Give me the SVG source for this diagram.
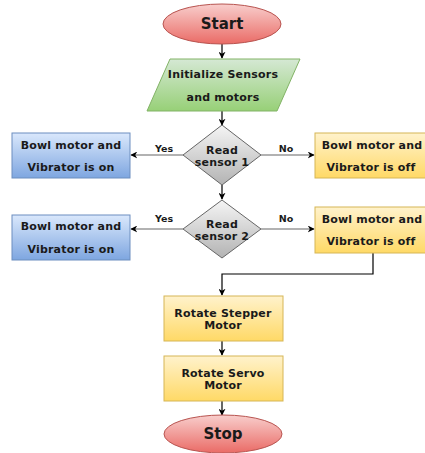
<svg xmlns="http://www.w3.org/2000/svg" width="425" height="453" viewBox="0 0 425 453">
<defs>
<linearGradient id="gRed" x1="0" y1="0" x2="0" y2="1"><stop offset="0" stop-color="#f8cecc"/><stop offset="1" stop-color="#ea6b66"/></linearGradient>
<linearGradient id="gGreen" x1="0" y1="0" x2="0" y2="1"><stop offset="0" stop-color="#d5e8d4"/><stop offset="1" stop-color="#97d077"/></linearGradient>
<linearGradient id="gBlue" x1="0" y1="0" x2="0" y2="1"><stop offset="0" stop-color="#dae8fc"/><stop offset="1" stop-color="#7ea6e0"/></linearGradient>
<linearGradient id="gYellow" x1="0" y1="0" x2="0" y2="1"><stop offset="0" stop-color="#fff2cc"/><stop offset="1" stop-color="#ffd966"/></linearGradient>
<linearGradient id="gGray" x1="0" y1="0" x2="0" y2="1"><stop offset="0" stop-color="#f5f5f5"/><stop offset="1" stop-color="#b3b3b3"/></linearGradient>
<marker id="arr" viewBox="0 0 10 10" refX="9" refY="5" markerWidth="7" markerHeight="7" orient="auto" markerUnits="userSpaceOnUse">
<path d="M0,0 L10,5 L0,10 L3,5 z" fill="#000"/>
</marker>
<style>
text{font-family:"DejaVu Sans","Liberation Sans",sans-serif;font-weight:bold;font-size:11px;letter-spacing:0.2px;fill:#1a1a1a;text-anchor:middle}
.big{font-size:15px;letter-spacing:0}
.lbl{font-size:9.5px;letter-spacing:0}
.c{fill:none;stroke:#000;stroke-width:1.2;marker-end:url(#arr)}
.cg{fill:none;stroke:#666;stroke-width:1.2;marker-end:url(#arr)}
.red{fill:url(#gRed);stroke:#b85450}
.green{fill:url(#gGreen);stroke:#82b366}
.blue{fill:url(#gBlue);stroke:#6c8ebf}
.yellow{fill:url(#gYellow);stroke:#d6b656}
.gray{fill:url(#gGray);stroke:#666666}
</style>
</defs>
<g id="connectors">
<path class="c" d="M222,44 L222,58"/>
<path class="c" d="M222,111 L222,125"/>
<path class="cg" d="M183,155 L131,155"/>
<path class="cg" d="M261,155 L314,155"/>
<path class="c" d="M222,185 L222,199"/>
<path class="cg" d="M183,229 L131,229"/>
<path class="cg" d="M261,229 L314,229"/>
<path class="c" d="M373,253 L373,274 L222,274 L222,295"/>
<path class="c" d="M222,341 L222,355"/>
<path class="c" d="M222,401 L222,415"/>
<text class="lbl" x="164" y="152">Yes</text>
<text class="lbl" x="286" y="152">No</text>
<text class="lbl" x="164" y="222">Yes</text>
<text class="lbl" x="286" y="222">No</text>
</g>
<g id="start">
<ellipse class="red" cx="222" cy="24" rx="59" ry="20"/>
<text class="big" x="222" y="29">Start</text>
</g>
<g id="init">
<polygon class="green" points="170,59 300,59 277,111 147,111"/>
<text x="223" y="78">Initialize Sensors</text>
<text x="223" y="101">and motors</text>
</g>
<g id="read1">
<polygon class="gray" points="222,125 261,155 222,185 183,155"/>
<text x="222" y="154">Read</text>
<text x="222" y="166">sensor 1</text>
</g>
<g id="on1">
<rect class="blue" x="12" y="133" width="118" height="45"/>
<text x="71" y="149">Bowl motor and</text>
<text x="71" y="171">Vibrator is on</text>
</g>
<g id="off1">
<rect class="yellow" x="315" y="133" width="120" height="45"/>
<text x="372" y="149">Bowl motor and</text>
<text x="371" y="171">Vibrator is off</text>
</g>
<g id="read2">
<polygon class="gray" points="222,200 261,229 222,258 183,229"/>
<text x="222" y="228">Read</text>
<text x="222" y="240">sensor 2</text>
</g>
<g id="on2">
<rect class="blue" x="12" y="215" width="118" height="45"/>
<text x="71" y="230">Bowl motor and</text>
<text x="71" y="253">Vibrator is on</text>
</g>
<g id="off2">
<rect class="yellow" x="315" y="207" width="120" height="46"/>
<text x="372" y="223">Bowl motor and</text>
<text x="371" y="245">Vibrator is off</text>
</g>
<g id="stepper">
<rect class="yellow" x="164" y="296" width="119" height="45"/>
<text x="223" y="317">Rotate Stepper</text>
<text x="223" y="329">Motor</text>
</g>
<g id="servo">
<rect class="yellow" x="164" y="356" width="119" height="45"/>
<text x="223" y="377">Rotate Servo</text>
<text x="223" y="389">Motor</text>
</g>
<g id="stop">
<ellipse class="red" cx="223" cy="434" rx="59" ry="19"/>
<text class="big" x="223" y="439">Stop</text>
</g>
</svg>
